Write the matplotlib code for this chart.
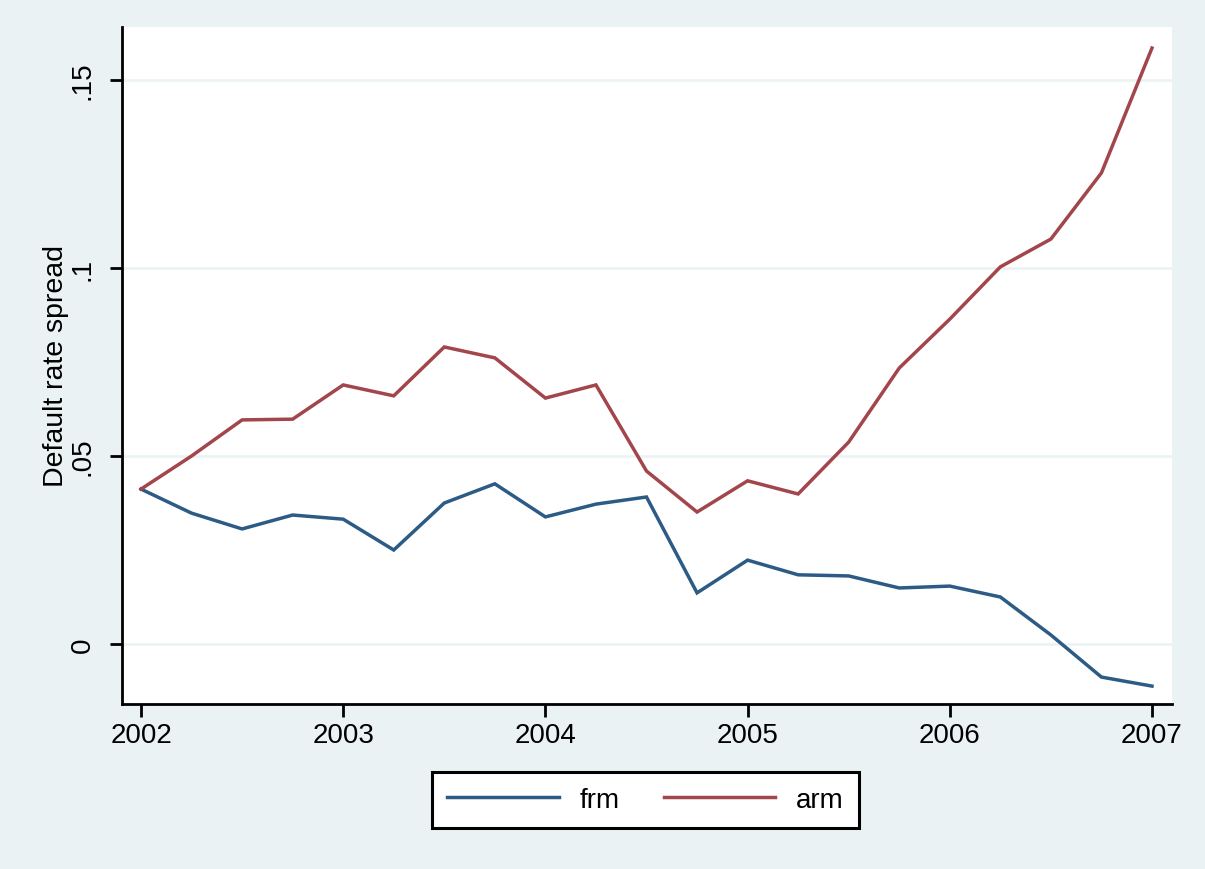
import matplotlib
matplotlib.use("Agg")
import matplotlib.pyplot as plt
import numpy as np

quarters = [2002.00, 2002.25, 2002.50, 2002.75, 2003.00, 2003.25, 2003.50, 2003.75,
            2004.00, 2004.25, 2004.50, 2004.75, 2005.00, 2005.25, 2005.50, 2005.75,
            2006.00, 2006.25, 2006.50, 2006.75, 2007.00]
frm = [0.0412, 0.0348, 0.0306, 0.0343, 0.0332, 0.0250, 0.0375, 0.0426,
       0.0338, 0.0372, 0.0391, 0.0136, 0.0223, 0.0184, 0.0181, 0.0149,
       0.0154, 0.0125, 0.0024, -0.0088, -0.0112]
arm = [0.0412, 0.0500, 0.0596, 0.0598, 0.0689, 0.0660, 0.0790, 0.0761,
       0.0654, 0.0689, 0.0460, 0.0351, 0.0434, 0.0399, 0.0537, 0.0734,
       0.0864, 0.1003, 0.1077, 0.1253, 0.1585]
xticks = [2002, 2003, 2004, 2005, 2006, 2007]
yticks = [0, 0.05, 0.10, 0.15]
ytick_labels = ["0", ".05", ".1", ".15"]

plt.rcParams['font.family'] = ['Liberation Sans', 'DejaVu Sans']
bg = '#EAF2F3'
fig = plt.figure(figsize=(12.05, 8.7), dpi=100, facecolor=bg)
ax = fig.add_axes([122/1205, 1-705/870, (1172-122)/1205, (705-28)/870])
ax.set_facecolor('white')

ax.plot(quarters, frm, color='#2c5b86', lw=2.5, label='frm', solid_joinstyle='miter')
ax.plot(quarters, arm, color='#a2464b', lw=2.5, label='arm', solid_joinstyle='miter')

ax.set_xlim(2001.906, 2007.099)
ax.set_ylim(-0.01596, 0.1641)
ax.set_xticks(xticks)
ax.set_xticklabels([str(x) for x in xticks], fontsize=20)
ax.set_yticks(yticks)
ax.set_yticklabels(ytick_labels, fontsize=20, rotation=90, va='center')
ax.grid(axis='y', color=bg, lw=1.8)
ax.set_axisbelow(True)
for s in ['top', 'right']:
    ax.spines[s].set_visible(False)
for s in ['left', 'bottom']:
    ax.spines[s].set_linewidth(2.0)
    ax.spines[s].set_color('black')
ax.tick_params(axis='both', length=9, width=2.0, direction='out', color='black')
ax.tick_params(axis='x', pad=4)
ax.tick_params(axis='y', pad=10)
ax.set_ylabel('Default rate spread', fontsize=20.5, labelpad=0.5)

leg = fig.legend(loc='center', bbox_to_anchor=(645.5/1205, 1-801/870), ncol=2,
                 fontsize=20, handlelength=4.0, handletextpad=0.75, columnspacing=1.6,
                 frameon=True, fancybox=False, borderpad=0.55, borderaxespad=0)
leg.get_frame().set_edgecolor('black')
leg.get_frame().set_linewidth(2.2)
leg.get_frame().set_facecolor('white')
leg.get_frame().set_alpha(1)
for l in leg.get_lines():
    l.set_linewidth(2.5)

fig.savefig('out.png', dpi=100, facecolor=bg)
